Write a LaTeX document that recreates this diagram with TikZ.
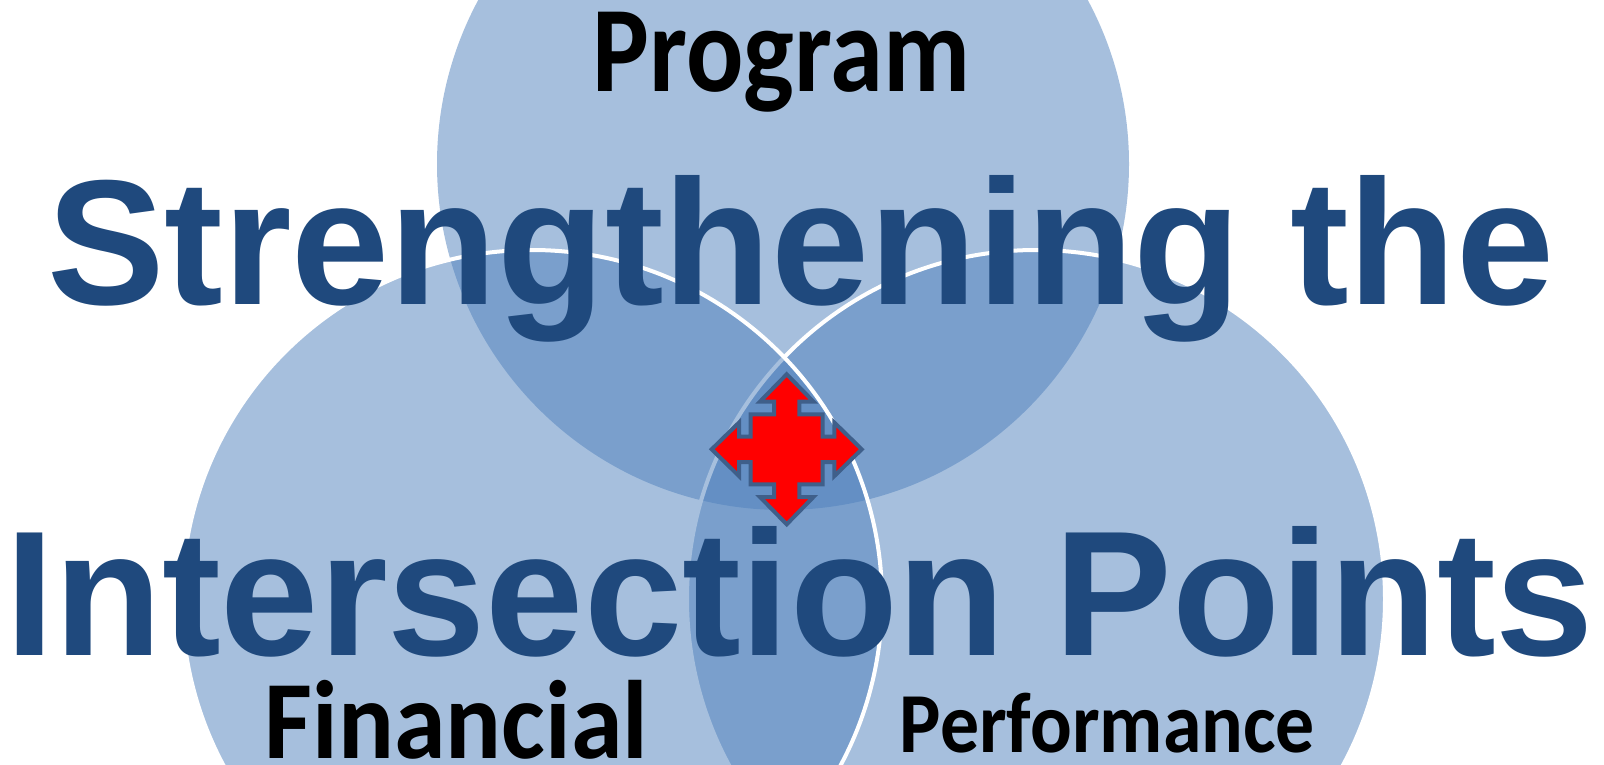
\documentclass[tikz,border=0pt]{standalone}
\usepackage{fontspec}
\setmainfont{Liberation Sans}
\newfontfamily\labelfont{Carlito}
\definecolor{venn}{HTML}{4F81BD}
\definecolor{titleblue}{HTML}{1F497D}
\definecolor{arrowedge}{HTML}{3F5F8A}
\tikzset{
  vennfill/.style={fill=venn,fill opacity=0.5},
  vennline/.style={vennfill,draw=white,line width=4pt},
  titletext/.style={text=titleblue,inner sep=0pt,anchor=base west,font=\fontsize{176}{176}\selectfont\bfseries},
  lbl/.style={text=black,inner sep=0pt,anchor=center,font=\labelfont\bfseries},
  quadarrow/.style={fill=red,draw=arrowedge,line width=4pt,miter limit=6}
}
\begin{document}
\begin{tikzpicture}[x=1pt,y=-1pt]
\useasboundingbox (0,0) rectangle (1604,765);
\clip (0,0) rectangle (1604,765);
\fill[white] (0,0) rectangle (1604,765);
\path[vennfill] (783,164) circle[radius=346];
\path[vennline] (1036,599) circle[radius=349];
\path[vennline] (532,600) circle[radius=350];
\draw[quadarrow] (786.7,449.3) ++(0,-75) -- ++(26.7,27.3) -- ++(-14,0) -- ++(0,12.7) -- ++(23.3,0)
  -- ++(0,22.3) -- ++(11.7,0) -- ++(0,-14) -- ++(27.3,26.7) -- ++(-27.3,26.7) -- ++(0,-14) -- ++(-11.7,0)
  -- ++(0,22.3) -- ++(-23.3,0) -- ++(0,12.7) -- ++(14,0) -- ++(-26.7,27.3) -- ++(-26.7,-27.3) -- ++(14,0)
  -- ++(0,-12.7) -- ++(-23.3,0) -- ++(0,-22.3) -- ++(-11.7,0) -- ++(0,14) -- ++(-27.3,-26.7) -- ++(27.3,-26.7)
  -- ++(0,14) -- ++(11.7,0) -- ++(0,-22.3) -- ++(23.3,0) -- ++(0,-12.7) -- ++(-14,0) -- cycle;
\node[titletext] (t1) at (47,304) {\scalebox{1.001}[1.012]{Strengthening the}};
\node[titletext] (t2) at (5,655) {\scalebox{1.003}[1.012]{Intersection Points}};
\node[lbl] (program) at (781.5,62) {\resizebox*{377pt}{100pt}{Program}};
\node[lbl] (financial) at (456.5,719.5) {\resizebox*{383pt}{79pt}{Financial}};
\node[lbl] (performance) at (1107.5,723) {\resizebox*{415pt}{60pt}{Performance}};
\end{tikzpicture}
\end{document}
